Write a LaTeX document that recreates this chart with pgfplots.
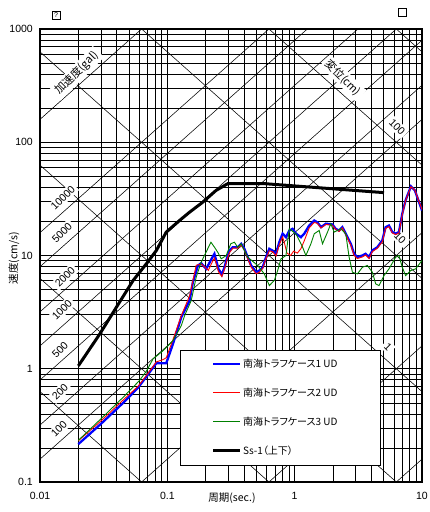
\documentclass[border=0pt]{standalone}
\usepackage{fontspec}
\setmainfont{Liberation Sans}
\newfontfamily\jp[RawFeature=+palt]{Noto Sans CJK JP}
\usepackage{pgfplots}
\pgfplotsset{compat=1.18}
\definecolor{cblue}{RGB}{0,0,255}
\definecolor{cred}{RGB}{255,0,0}
\definecolor{cgreen}{RGB}{0,128,0}
\tikzset{diag/.style={black, line width=0.55pt},
  lab/.style={fill=white, inner xsep=2.5pt, inner ysep=2pt, font=\fontsize{10.5}{12}\selectfont}}
\begin{document}
\begin{tikzpicture}
\begin{axis}[name=ax, set layers=standard, scale only axis, width=382pt, height=453pt,
  xmode=log, ymode=log, xmin=0.01, xmax=10, ymin=0.1, ymax=1000,
  xtick={0.01,0.1,1,10}, xticklabels={0.01,0.1,1,10},
  ytick={0.1,1,10,100,1000}, yticklabels={0.1,1,10,100,1000},
  grid=both,
  major grid style={black, line width=0.7pt},
  minor grid style={black, line width=0.5pt},
  major tick length=0pt, minor tick length=0pt,
  axis line style={line width=1.2pt},
  tick label style={font=\fontsize{10.5}{12}\selectfont},
  yticklabel style={inner sep=0pt, anchor=east, xshift=-7pt},
  xticklabel style={inner sep=0pt, anchor=north, yshift=-10pt},
  clip=true]
\begin{pgfonlayer}{axis grid}
% acceleration lines (gal): v = a T / (2 pi), cut to the frame
\draw[diag] (axis cs:6.2832,0.1) -- (axis cs:10,0.15915);
\draw[diag] (axis cs:0.62832,0.1) -- (axis cs:10,1.5915);
\draw[diag] (axis cs:0.062832,0.1) -- (axis cs:10,15.915);
\draw[diag] (axis cs:0.01,0.15915) -- (axis cs:10,159.15);
\draw[diag] (axis cs:0.01,0.3183) -- (axis cs:10,318.3);
\draw[diag] (axis cs:0.01,0.79577) -- (axis cs:10,795.77);
\draw[diag] (axis cs:0.01,1.5915) -- (axis cs:6.2832,1000);
\draw[diag] (axis cs:0.01,3.1831) -- (axis cs:3.1416,1000);
\draw[diag] (axis cs:0.01,7.9577) -- (axis cs:1.2566,1000);
\draw[diag] (axis cs:0.01,15.915) -- (axis cs:0.62832,1000);
\draw[diag] (axis cs:0.01,159.15) -- (axis cs:0.062832,1000);
% displacement lines (cm): v = 2 pi d / T
\draw[diag] (axis cs:0.01,0.62832) -- (axis cs:0.062832,0.1);
\draw[diag] (axis cs:0.01,6.2832) -- (axis cs:0.62832,0.1);
\draw[diag] (axis cs:0.01,62.832) -- (axis cs:6.2832,0.1);
\draw[diag] (axis cs:0.01,628.32) -- (axis cs:10,0.62832);
\draw[diag] (axis cs:0.062832,1000) -- (axis cs:10,6.2832);
\draw[diag] (axis cs:0.62832,1000) -- (axis cs:10,62.832);
\draw[diag] (axis cs:6.2832,1000) -- (axis cs:10,628.32);
\end{pgfonlayer}
\begin{pgfonlayer}{pre main}
\node[lab, rotate=45] at (rel axis cs:0.0602,0.6269) {10000};
\node[lab, rotate=45] at (rel axis cs:0.0576,0.5497) {5000};
\node[lab, rotate=45] at (rel axis cs:0.0654,0.4525) {2000};
\node[lab, rotate=45] at (rel axis cs:0.0576,0.3797) {1000};
\node[lab, rotate=45] at (rel axis cs:0.0524,0.2914) {500};
\node[lab, rotate=45] at (rel axis cs:0.0524,0.1987) {200};
\node[lab, rotate=45] at (rel axis cs:0.0497,0.1170) {100};
\node[lab, rotate=45, font=\jp\fontsize{11}{12}\selectfont] at (rel axis cs:0.0969,0.9029) {加速度(gal)};
\node[lab, rotate=-45, font=\jp\fontsize{11}{12}\selectfont] at (rel axis cs:0.7932,0.8918) {変位(cm)};
\node[lab, rotate=-45] at (rel axis cs:0.9346,0.7837) {100};
\node[lab, rotate=-45] at (rel axis cs:0.9424,0.5386) {10};
\node[lab, rotate=-45] at (rel axis cs:0.9110,0.2980) {1};
\end{pgfonlayer}
% data
\addplot[cblue, line width=2.3pt, forget plot] coordinates {
(0.02,0.216) (0.03,0.325) (0.045,0.50) (0.0589,0.68) (0.0684,0.85) (0.075,0.98)
(0.082,1.12) (0.0981,1.12) (0.1106,1.65) (0.1287,2.85) (0.1495,4.0) (0.1588,5.81)
(0.1738,8.16) (0.1845,8.55) (0.2019,7.62) (0.2278,9.8) (0.2344,10.35) (0.252,7.62)
(0.268,6.79) (0.2814,7.88) (0.2952,9.67) (0.3079,11.07) (0.3267,11.84) (0.3575,11.84)
(0.380,12.69) (0.4028,11.46) (0.4276,9.67) (0.455,8.17) (0.498,7.11) (0.528,7.36)
(0.561,7.88) (0.596,9.67) (0.632,11.46) (0.671,11.07) (0.714,10.35) (0.757,13.1)
(0.804,15.6) (0.855,14.5) (0.907,16.6) (0.963,17.2) (1.024,15.6) (1.12,14.5)
(1.19,15.6) (1.30,18.4) (1.424,20.4) (1.51,19.6) (1.61,17.8) (1.76,19.1) (1.98,18.8)
(2.10,17.2) (2.23,16.6) (2.37,17.8) (2.52,15.6) (2.76,12.7) (2.93,10.35) (3.11,9.67)
(3.40,10.0) (3.61,10.35) (3.84,9.67) (4.07,11.07) (4.46,11.84) (4.88,13.6) (5.18,17.8)
(5.5,18.4) (5.85,16.1) (6.21,15.6) (6.59,16.1) (7.0,23.4) (7.43,30.7) (8.19,40.8)
(8.79,37.6) (10,25)};
\addplot[cred, line width=0.9pt, forget plot] coordinates {
(0.02,0.231) (0.03,0.345) (0.045,0.53) (0.0589,0.70) (0.0684,0.87) (0.082,1.15)
(0.092,1.2) (0.0981,1.25) (0.1106,1.8) (0.1287,2.94) (0.1495,4.4) (0.1588,6.0)
(0.1685,8.2) (0.185,8.4) (0.21,7.4) (0.228,9.0) (0.2344,9.5) (0.252,7.2) (0.268,6.5)
(0.2814,7.6) (0.2952,9.3) (0.3079,10.6) (0.3267,11.6) (0.3575,11.6) (0.380,12.3)
(0.4028,11.2) (0.4276,9.4) (0.455,7.9) (0.498,6.9) (0.528,7.1) (0.561,7.7) (0.596,9.4)
(0.632,11.0) (0.671,10.8) (0.714,9.9) (0.757,12.4) (0.804,14.6) (0.83,13.0) (0.87,10.5)
(0.93,10.0) (0.98,10.9) (1.05,10.5) (1.12,11.5) (1.19,13.5) (1.30,17.5) (1.424,19.6)
(1.51,19.2) (1.61,17.5) (1.76,18.8) (1.98,18.5) (2.10,17.0) (2.23,16.3) (2.37,17.5)
(2.52,15.3) (2.76,12.3) (2.93,10.0) (3.11,9.4) (3.40,9.7) (3.61,10.1) (3.84,9.4)
(4.07,10.8) (4.46,11.6) (4.88,13.2) (5.18,17.3) (5.5,18.0) (5.85,15.8) (6.21,15.3)
(6.59,15.8) (7.0,23.0) (7.43,30.5) (8.19,40.5) (8.79,37.8) (10,25.5)};
\addplot[cgreen, line width=0.9pt, forget plot] coordinates {
(0.02,0.233) (0.03,0.36) (0.045,0.56) (0.06,0.78) (0.0684,0.95) (0.0772,1.22)
(0.0924,1.44) (0.1106,1.77) (0.1287,2.40) (0.1366,2.94) (0.1541,4.00) (0.1685,6.43)
(0.1845,8.73) (0.22,13.1) (0.235,11.8) (0.25,10.6) (0.265,9.35) (0.29,10.0)
(0.315,12.7) (0.3365,13.1) (0.357,11.8) (0.3795,12.7) (0.428,9.66) (0.5125,8.16)
(0.5778,6.88) (0.6326,5.43) (0.692,6.01) (0.7352,7.36) (0.7806,9.34) (0.8541,10.0)
(0.9072,17.2) (1.023,15.55) (1.154,11.85) (1.225,10.0) (1.341,12.68) (1.424,15.55)
(1.558,16.64) (1.654,12.68) (1.811,16.09) (1.923,19.07) (2.042,16.09) (2.303,17.2)
(2.52,15.55) (2.677,9.66) (2.843,7.12) (3.111,6.88) (3.404,7.88) (3.725,8.16)
(4.076,7.12) (4.329,5.61) (4.597,5.43) (5.031,6.65) (5.506,7.62) (6.21,9.66)
(6.59,10.0) (7.00,7.88) (7.43,6.65) (8.14,7.36) (8.91,7.62) (10,9.03)};
\addplot[black, line width=3pt, forget plot] coordinates {
(0.02,1.06) (0.0295,2.03) (0.0398,3.49) (0.0538,6.01) (0.0684,8.44) (0.082,11.07)
(0.0981,16.1) (0.1248,20.4) (0.15,24.2) (0.19,29.6) (0.2416,37.6) (0.2984,43.1)
(0.578,43.1) (5.03,35.9)};
\end{axis}
\begin{scope}[shift={(ax.south west)}, x=1pt, y=1pt]
  % legend
  \draw[black, line width=0.9pt, fill=white] (140,17) rectangle (340,132);
  \draw[cblue, line width=2.3pt] (173,118) -- (200,118);
  \draw[cred, line width=1pt] (173,89) -- (200,89);
  \draw[cgreen, line width=1pt] (173,60) -- (200,60);
  \draw[black, line width=3pt] (173,31) -- (200,31);
  \begin{scope}[every node/.style={anchor=west, inner sep=0pt, font=\jp\fontsize{10}{12}\selectfont}]
    \node at (203,118) {南海トラフケース1 UD};
    \node at (203,89) {南海トラフケース2 UD};
    \node at (203,60) {南海トラフケース3 UD};
    \node at (203,31) {Ss-1（上下）};
  \end{scope}
  % axis titles
  \node[font=\jp\fontsize{10.5}{12}\selectfont] at (192,-16) {周期(sec.)};
  \node[rotate=90, font=\jp\fontsize{10.5}{12}\selectfont] at (-26,224) {速度(cm/s)};
  % top marks
  \node[draw, line width=0.4pt, minimum size=8pt, inner sep=0pt, font=\fontsize{7}{7}\selectfont] at (16,467) {?};
  \node[draw, line width=0.6pt, minimum size=8pt, inner sep=0pt] at (362,470) {};
  \pgfresetboundingbox
  \path[use as bounding box] (-40,-30) rectangle (390,482);
\end{scope}
\end{tikzpicture}
\end{document}
